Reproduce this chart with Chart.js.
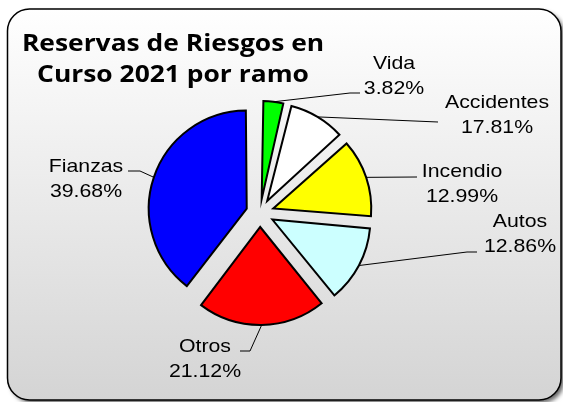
<!DOCTYPE html>
<html>
<head>
<meta charset="utf-8">
<title>Reservas de Riesgos en Curso 2021 por ramo</title>
<script src="https://cdn.jsdelivr.net/npm/chart.js@4.4.1/dist/chart.umd.min.js"></script>
<style>
  html, body { margin: 0; padding: 0; background: #ffffff; }
  #wrap { width: 563px; height: 402px; position: relative; }
</style>
</head>
<body>
<div id="wrap"><canvas id="pieChart"></canvas></div>
<script>
// Reservas de Riesgos en Curso 2021 por ramo - pie chart

const ramos = ['Vida', 'Accidentes', 'Incendio', 'Autos', 'Otros', 'Fianzas'];
// slice sizes as they are drawn (%)
const sliceValues = [3.82, 9.53, 12.99, 12.86, 21.12, 39.68];
// percentages printed in the labels
const pctLabels = ['3.82%', '17.81%', '12.99%', '12.86%', '21.12%', '39.68%'];
const sliceColors = ['#00ff00', '#ffffff', '#ffff00', '#ccffff', '#ff0000', '#0000ff'];
const titleLines = ['Reservas de Riesgos en', 'Curso 2021 por ramo'];

// label placement: text centre x, first baseline y, leader points after the slice anchor
const labelLayout = [
  { x: 394, y: 69,  leader: [[350, 93], [360, 93]] },
  { x: 497, y: 108, leader: [[438, 122]] },
  { x: 462, y: 177, leader: [[417, 177]] },
  { x: 520, y: 227, leader: [[467, 252], [477, 252]] },
  { x: 205, y: 352, leader: [[250, 351], [240, 351]] },
  { x: 86,  y: 172, leader: [[140, 171], [128, 171]] }
];

const PIE_RADIUS = 98;
const EXPLODE = 56; // Chart.js moves an arc by offset / 4

// rounded frame with grey gradient and drop shadow
const framePlugin = {
  id: 'frame',
  beforeDraw(chart) {
    const ctx = chart.ctx;
    const x0 = 7.5, y0 = 9, x1 = 561, y1 = 400, r = 22;
    ctx.save();
    ctx.beginPath();
    ctx.roundRect(x0, y0, x1 - x0, y1 - y0, r);
    const grad = ctx.createLinearGradient(0, y0, 0, y1);
    grad.addColorStop(0, '#ffffff');
    grad.addColorStop(1, '#d4d4d4');
    ctx.shadowColor = 'rgba(0,0,0,0.6)';
    ctx.shadowOffsetX = 3;
    ctx.shadowOffsetY = 3;
    ctx.shadowBlur = 4;
    ctx.fillStyle = grad;
    ctx.fill();
    ctx.shadowColor = 'transparent';
    ctx.lineWidth = 1.5;
    ctx.strokeStyle = '#000000';
    ctx.stroke();

    // title
    ctx.fillStyle = '#000000';
    ctx.font = 'bold 24px "Open Sans"';
    ctx.textAlign = 'center';
    ctx.textBaseline = 'alphabetic';
    titleLines.forEach((t, k) => {
      ctx.save();
      ctx.translate(173, 51 + k * 31);
      ctx.scale(1.1, 1);
      ctx.fillText(t, 0, 0);
      ctx.restore();
    });
    ctx.restore();
  }
};

// keep every exploded slice at the same radius (Chart.js grows small ones)
const explodeFix = {
  id: 'explodeFix',
  afterDatasetUpdate(chart, args) {
    args.meta.data.forEach(arc => {
      const off = (arc.options.offset || 0) / 4;
      const fix = 1 - Math.sin(Math.min(Math.PI, arc.circumference));
      arc.outerRadius = PIE_RADIUS - off * fix;
    });
  }
};

// labels with leader lines
const labelPlugin = {
  id: 'pieLabels',
  afterDatasetsDraw(chart) {
    const ctx = chart.ctx;
    const arcs = chart.getDatasetMeta(0).data;
    ctx.save();
    arcs.forEach((arc, i) => {
      const mid = (arc.startAngle + arc.endAngle) / 2;
      const off = (arc.options.offset || 0) / 4;
      const ax = arc.x + Math.cos(mid) * (PIE_RADIUS + off);
      const ay = arc.y + Math.sin(mid) * (PIE_RADIUS + off);
      const lay = labelLayout[i];

      ctx.beginPath();
      ctx.moveTo(ax, ay);
      lay.leader.forEach(p => ctx.lineTo(p[0], p[1]));
      ctx.lineWidth = 1;
      ctx.strokeStyle = '#000000';
      ctx.stroke();

      ctx.fillStyle = '#000000';
      ctx.font = '19px "Liberation Sans", Arial, sans-serif';
      ctx.textAlign = 'center';
      ctx.textBaseline = 'alphabetic';
      [ramos[i], pctLabels[i]].forEach((t, k) => {
        ctx.save();
        ctx.translate(lay.x, lay.y + k * 24.5);
        ctx.scale(1.12, 1);
        ctx.fillText(t, 0, 0);
        ctx.restore();
      });
    });
    ctx.restore();
  }
};

const pieCtx = document.getElementById('pieChart');
new Chart(pieCtx.getContext('2d'), {
  type: 'pie',
  data: {
    labels: ramos,
    datasets: [{
      data: sliceValues,
      backgroundColor: sliceColors,
      borderColor: '#000000',
      borderWidth: 2,
      borderJoinStyle: 'miter',
      offset: EXPLODE,
      radius: PIE_RADIUS
    }]
  },
  options: {
    responsive: true,
    maintainAspectRatio: false,
    animation: false,
    events: [],
    layout: { padding: { left: 20, right: 63, top: 40, bottom: 16 } },
    plugins: {
      legend: { display: false },
      tooltip: { enabled: false },
      title: { display: false }
    }
  },
  plugins: [framePlugin, explodeFix, labelPlugin]
});
</script>
</body>
</html>
